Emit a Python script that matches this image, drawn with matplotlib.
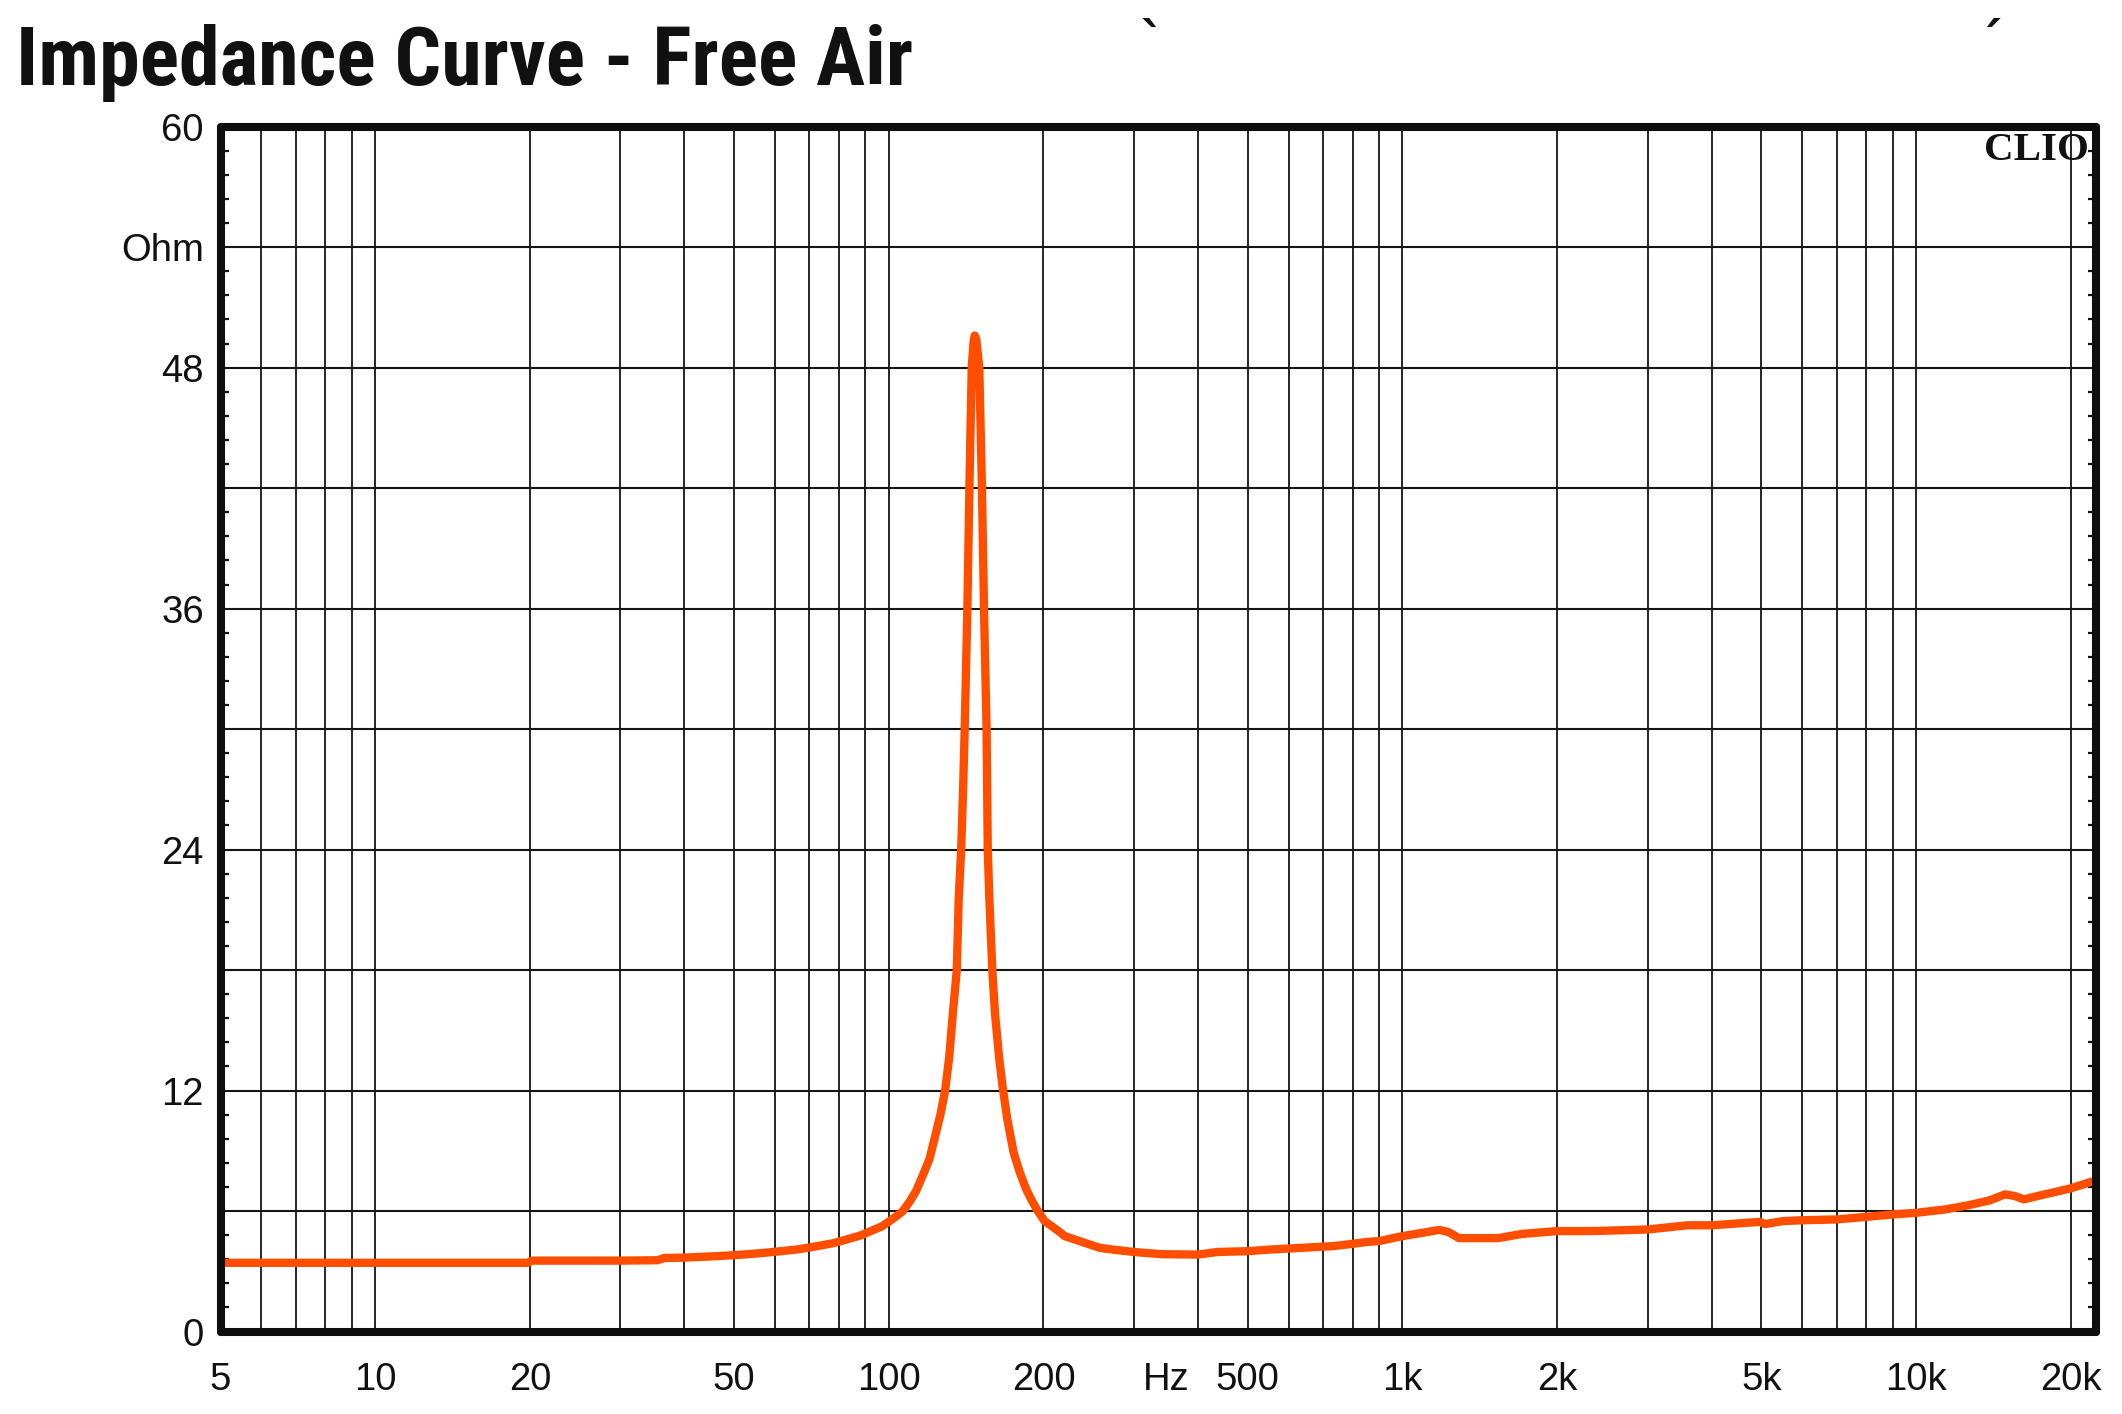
import matplotlib
matplotlib.use("Agg")
import matplotlib.pyplot as plt
from matplotlib.ticker import FixedLocator, NullFormatter
from matplotlib import font_manager

# ---------------- data ----------------
freq_hz = [5, 10, 19.8, 20.2, 30, 35.5, 36.5, 40, 46, 50, 55, 60, 66, 70, 78,
           88, 97, 101, 104.5, 106.5, 110, 113, 117, 120, 123, 126, 128.7, 131,
           133.2, 135.6, 136.8, 138.3, 139.5, 140.5, 142.2, 143.5, 145.0, 146.2,
           147.0, 148.0, 150.0, 151.8, 153.2, 155.0, 155.4, 155.8, 156.9, 159.0,
           161.0, 164.0, 166.5, 170.0, 175.0, 180.0, 185.0, 190.0, 195.0, 201,
           214, 220, 241, 258, 273, 300, 340, 400, 436, 500, 551, 629, 731, 790,
           852, 900, 978, 1000, 1090, 1180, 1230, 1288, 1534, 1710, 2000, 2340,
           3000, 3590, 4000, 4970, 5080, 5510, 6000, 7000, 8000, 9000, 10000,
           11400, 12600, 13900, 14900, 15600, 16200, 17200, 20000, 22400]
impedance_ohm = [3.42, 3.42, 3.42, 3.53, 3.53, 3.55, 3.66, 3.68, 3.75, 3.8,
                 3.88, 3.97, 4.08, 4.18, 4.4, 4.78, 5.24, 5.55, 5.83, 6.0, 6.5,
                 7.0, 7.9, 8.6, 9.7, 10.8, 12.0, 13.6, 15.8, 18.0, 21.6, 24.0,
                 27.0, 30.0, 36.0, 42.0, 48.0, 49.3, 49.6, 49.4, 48.0, 42.0,
                 36.0, 30.0, 27.0, 24.0, 21.6, 18.0, 15.8, 13.6, 12.2, 10.6,
                 8.9, 7.9, 7.1, 6.5, 6.0, 5.5, 5.0, 4.75, 4.41, 4.16, 4.08,
                 3.96, 3.85, 3.83, 3.96, 4.0, 4.08, 4.16, 4.25, 4.35, 4.46, 4.5,
                 4.7, 4.75, 4.91, 5.06, 4.95, 4.65, 4.65, 4.86, 5.0, 5.0, 5.08,
                 5.29, 5.29, 5.46, 5.35, 5.5, 5.54, 5.58, 5.71, 5.83, 5.91, 6.08,
                 6.28, 6.53, 6.83, 6.74, 6.58, 6.74, 7.13, 7.53]

x_tick_values = [5, 10, 20, 50, 100, 200, 346, 500, 1000, 2000, 5000, 10000, 20000]
x_tick_labels = ["5", "10", "20", "50", "100", "200", "Hz", "500", "1k", "2k",
                 "5k", "10k", "20k"]
y_tick_values = [0, 12, 24, 36, 48, 54, 60]
y_tick_labels = ["0", "12", "24", "36", "48", "Ohm", "60"]
title_text = "Impedance Curve - Free Air"
x_min, x_max = 5, 22400
y_min, y_max = 0, 60

# ---------------- fonts ----------------
def pick(*names):
    for n in names:
        try:
            font_manager.findfont(n, fallback_to_default=False)
            return n
        except Exception:
            continue
    return "DejaVu Sans"

label_font = pick("Liberation Sans", "Arial", "DejaVu Sans")
title_font = pick("Liberation Sans Narrow", "Roboto Condensed", "Liberation Sans")
serif_font = pick("Liberation Serif", "DejaVu Serif")

W, H = 2122, 1414
fig = plt.figure(figsize=(W / 100, H / 100), dpi=100)
fig.patch.set_facecolor("white")

ax_l, ax_r, ax_t, ax_b = 220.6, 2096.0, 126.7, 1331.5
ax = fig.add_axes([ax_l / W, (H - ax_b) / H, (ax_r - ax_l) / W, (ax_b - ax_t) / H])
ax.set_xscale("log")
ax.set_xlim(x_min, x_max)
ax.set_ylim(y_min, y_max)

# grid
grid_color = "#141614"
xgrid = [m * 10 ** e for e in range(0, 5) for m in range(1, 10)]
for gx in xgrid:
    if x_min < gx < x_max:
        ax.axvline(gx, color=grid_color, lw=1.3, zorder=1)
for gy in range(6, 60, 6):
    ax.axhline(gy, color=grid_color, lw=1.5, zorder=1)

# curve
ax.plot(freq_hz, impedance_ohm, color="#FF4E00", lw=6.0, zorder=3,
        solid_capstyle="round", solid_joinstyle="round")

# ticks
ax.set_xticks(x_tick_values)
ax.set_xticklabels(x_tick_labels)
ax.xaxis.set_minor_locator(FixedLocator([]))
ax.xaxis.set_minor_formatter(NullFormatter())
ax.set_yticks(y_tick_values)
ax.set_yticklabels(y_tick_labels)
minor_y = [round(i * 1.2, 2) for i in range(1, 50) if i % 5 != 0]
ax.yaxis.set_minor_locator(FixedLocator(minor_y))
ax.tick_params(axis="x", which="major", length=0, pad=22, labelsize=27.5,
               labelcolor="#111111")
ax.tick_params(axis="y", which="major", length=0, pad=12, labelsize=27.5,
               labelcolor="#111111")
ax.tick_params(axis="y", which="minor", direction="in", length=6, width=1.6,
               left=True, right=True, color="#111111")
for lab in ax.get_xticklabels() + ax.get_yticklabels():
    lab.set_fontfamily(label_font)

for sp in ax.spines.values():
    sp.set_linewidth(5.8)
    sp.set_color("#0d0f0d")
    sp.set_capstyle("round")
    sp.set_joinstyle("round")
    sp.set_zorder(5)

# title
fig.text(16 / W, 1 - 85 / H, title_text, fontsize=59, fontweight="bold",
         family=[title_font, "DejaVu Sans"], ha="left", va="baseline",
         color="#111111")

# CLIO watermark
fig.text(2089 / W, 1 - 132 / H, "CLIO", fontsize=29.5, fontweight="bold",
         family=[serif_font, "DejaVu Serif"], ha="right", va="top",
         color="#111111", zorder=6)

# small stray marks at the top of the image
fig.text(1152 / W, 1 - 58 / H, "`", fontsize=36, fontweight="bold",
         family="DejaVu Sans", ha="center", va="baseline", color="#111111")
fig.text(1990 / W, 1 - 58 / H, "\u00b4", fontsize=36, fontweight="bold",
         family="DejaVu Sans", ha="center", va="baseline", color="#111111")

fig.savefig("out.png", dpi=100, facecolor="white")
